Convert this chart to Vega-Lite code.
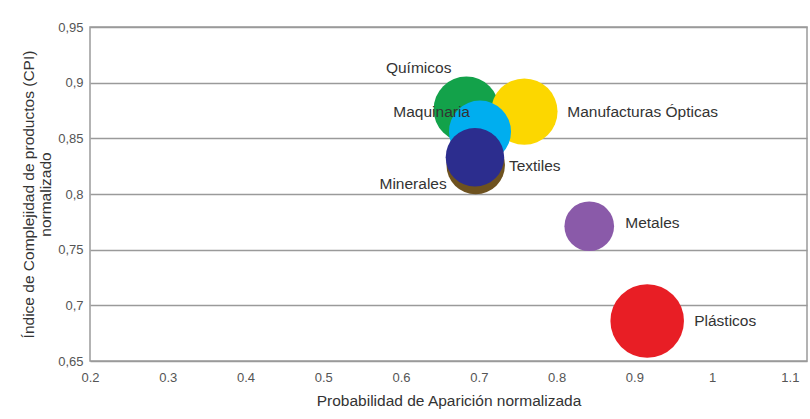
{
  "$schema": "https://vega.github.io/schema/vega-lite/v6.json",
  "autosize": "none",
  "width": 717,
  "height": 334,
  "padding": {"left": 90, "top": 27, "right": 3, "bottom": 58},
  "background": "white",
  "config": {
    "font": "Liberation Sans",
    "view": {"stroke": "#9a9a9a", "strokeWidth": 1.5},
    "axis": {"labelFont": "Liberation Sans", "titleFont": "Liberation Sans", "labelColor": "#555", "titleColor": "#333", "titleFontWeight": "normal", "labelFontSize": 13, "titleFontSize": 15.5}
  },
  "data": {
    "values": [
      {"sector": "Químicos", "prob": 0.684, "cpi": 0.876, "peso": 1369},
      {"sector": "Manufacturas Ópticas", "prob": 0.7585, "cpi": 0.874, "peso": 1406},
      {"sector": "Maquinaria", "prob": 0.7015, "cpi": 0.856, "peso": 1225},
      {"sector": "Minerales", "prob": 0.696, "cpi": 0.826, "peso": 1089},
      {"sector": "Textiles", "prob": 0.695, "cpi": 0.833, "peso": 1089},
      {"sector": "Metales", "prob": 0.842, "cpi": 0.771, "peso": 784},
      {"sector": "Plásticos", "prob": 0.9165, "cpi": 0.686, "peso": 1722}
    ]
  },
  "encoding": {
    "x": {
      "field": "prob", "type": "quantitative",
      "scale": {"domain": [0.2, 1.122], "nice": false, "zero": false},
      "axis": {"values": [0.2, 0.3, 0.4, 0.5, 0.6, 0.7, 0.8, 0.9, 1, 1.1], "format": "~g", "grid": false, "domain": false, "ticks": false, "labelPadding": 10, "title": "Probabilidad de Aparición normalizada", "titlePadding": 9, "labelFlush": false}
    },
    "y": {
      "field": "cpi", "type": "quantitative",
      "scale": {"domain": [0.65, 0.95], "nice": false, "zero": false},
      "axis": {"values": [0.65, 0.7, 0.75, 0.8, 0.85, 0.9, 0.95], "labelExpr": "replace(format(datum.value, '~g'), '.', ',')", "grid": true, "gridColor": "#9a9a9a", "gridWidth": 1.5, "gridOpacity": 1, "domain": false, "ticks": false, "labelPadding": 7, "title": ["Índice de Complejidad de productos (CPI)", "normalizado"], "titlePadding": 4}
    }
  },
  "layer": [
    {
      "mark": {"type": "circle", "opacity": 1},
      "encoding": {
        "size": {"field": "peso", "type": "quantitative", "scale": {"domain": [0, 1722], "range": [0, 5410], "zero": true}, "legend": null},
        "color": {"field": "sector", "type": "nominal", "legend": null,
          "scale": {"domain": ["Químicos", "Manufacturas Ópticas", "Maquinaria", "Minerales", "Textiles", "Metales", "Plásticos"],
                    "range": ["#13a24a", "#fcd700", "#00aeef", "#6e521f", "#2c2d8e", "#8a5aa9", "#e81e25"]}}
      }
    },
    {
      "transform": [{"filter": "datum.sector == 'Químicos'"}],
      "mark": {"type": "text", "align": "right", "baseline": "middle", "dx": -15, "dy": -41, "fontSize": 15.5, "color": "#333"},
      "encoding": {"text": {"field": "sector"}}
    },
    {
      "transform": [{"filter": "datum.sector == 'Maquinaria'"}],
      "mark": {"type": "text", "align": "right", "baseline": "middle", "dx": -10, "dy": -20, "fontSize": 15.5, "color": "#333"},
      "encoding": {"text": {"field": "sector"}}
    },
    {
      "transform": [{"filter": "datum.sector == 'Minerales'"}],
      "mark": {"type": "text", "align": "right", "baseline": "middle", "dx": -29, "dy": 19, "fontSize": 15.5, "color": "#333"},
      "encoding": {"text": {"field": "sector"}}
    },
    {
      "transform": [{"filter": "datum.sector == 'Manufacturas Ópticas'"}],
      "mark": {"type": "text", "align": "left", "baseline": "middle", "dx": 43, "dy": 0, "fontSize": 15.5, "color": "#333"},
      "encoding": {"text": {"field": "sector"}}
    },
    {
      "transform": [{"filter": "datum.sector == 'Textiles'"}],
      "mark": {"type": "text", "align": "left", "baseline": "middle", "dx": 34, "dy": 9, "fontSize": 15.5, "color": "#333"},
      "encoding": {"text": {"field": "sector"}}
    },
    {
      "transform": [{"filter": "datum.sector == 'Metales'"}],
      "mark": {"type": "text", "align": "left", "baseline": "middle", "dx": 36, "dy": -3, "fontSize": 15.5, "color": "#333"},
      "encoding": {"text": {"field": "sector"}}
    },
    {
      "transform": [{"filter": "datum.sector == 'Plásticos'"}],
      "mark": {"type": "text", "align": "left", "baseline": "middle", "dx": 47, "dy": 0, "fontSize": 15.5, "color": "#333"},
      "encoding": {"text": {"field": "sector"}}
    }
  ]
}
